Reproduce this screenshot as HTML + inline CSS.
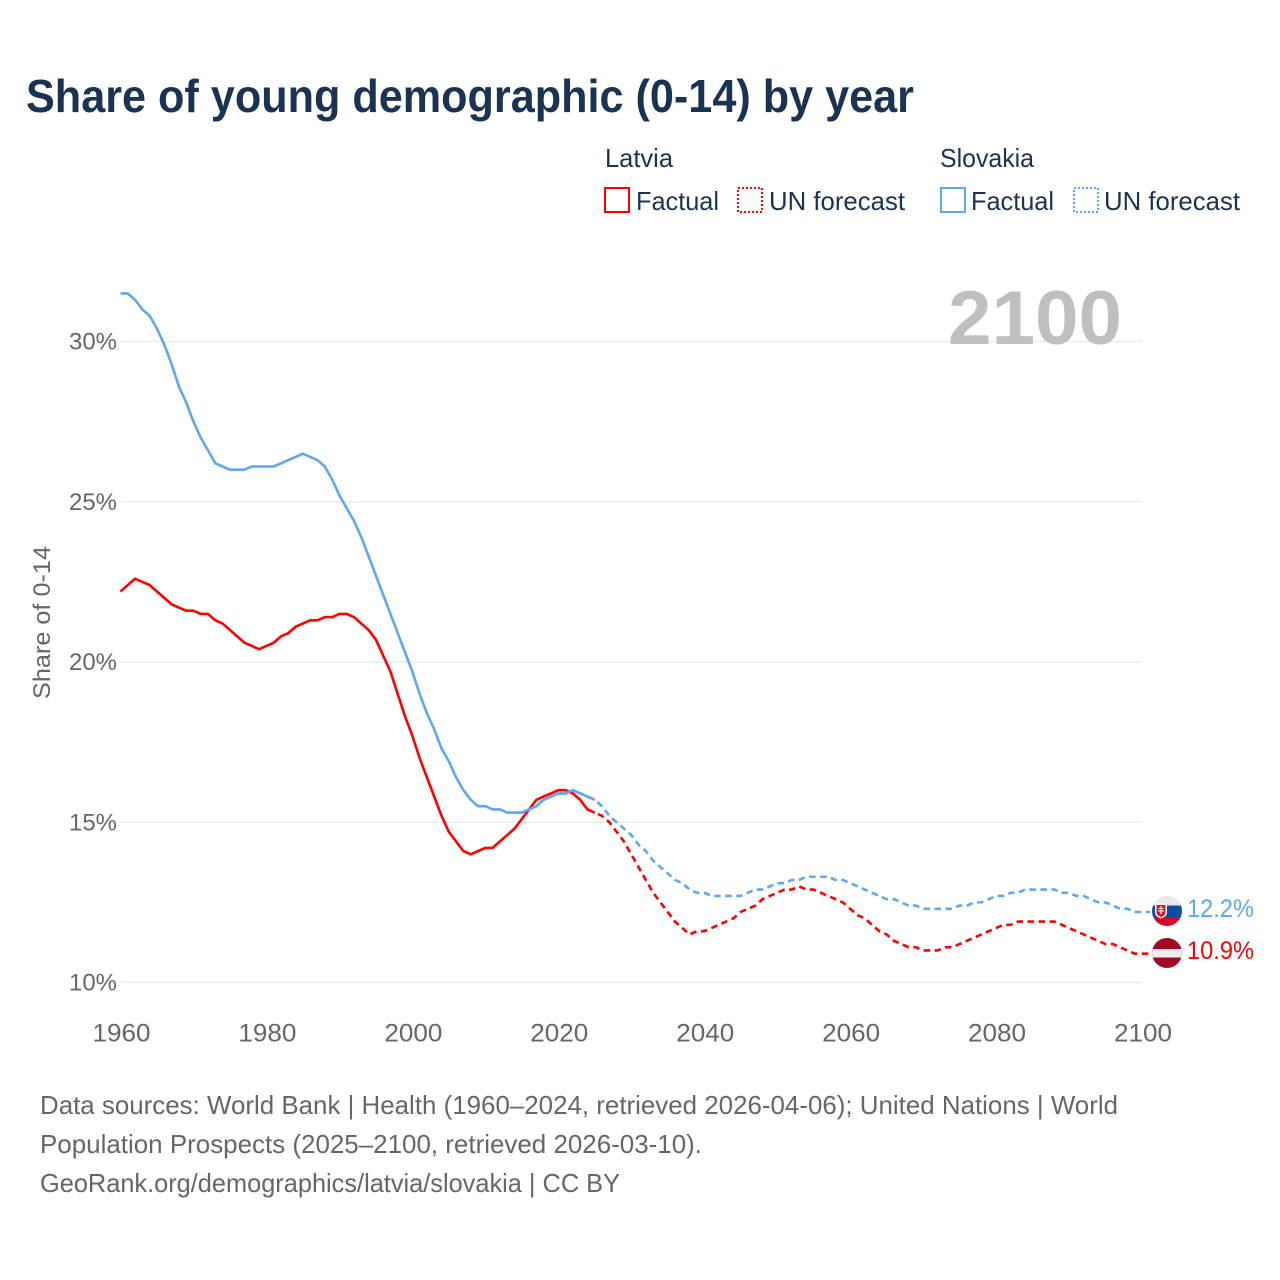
<!DOCTYPE html>
<html lang="en">
<head>
<meta charset="utf-8">
<title>Share of young demographic (0-14) by year</title>
<style>
html,body{margin:0;padding:0;background:#fff;width:1280px;height:1280px;overflow:hidden}
svg{display:block}
text{font-family:"Liberation Sans",sans-serif}
</style>
</head>
<body>
<svg id="chart" xmlns="http://www.w3.org/2000/svg" width="1280" height="1280" viewBox="0 0 1280 1280">
  <rect width="1280" height="1280" fill="#fff"/>
  <text x="26" y="112" font-size="46" font-weight="700" fill="#1b3353" textLength="888" lengthAdjust="spacingAndGlyphs">Share of young demographic (0-14) by year</text>

  <g font-size="26" fill="#1b3353">
    <text x="605" y="167" textLength="68" lengthAdjust="spacingAndGlyphs">Latvia</text>
    <rect x="605" y="188" width="24" height="24" fill="none" stroke="#ff0000" stroke-width="2"/>
    <text x="636" y="210" textLength="83" lengthAdjust="spacingAndGlyphs">Factual</text>
    <rect x="738" y="188" width="24" height="24" fill="none" stroke="#ff0000" stroke-width="2" stroke-dasharray="2 2"/>
    <text x="769" y="210" textLength="136" lengthAdjust="spacingAndGlyphs">UN forecast</text>
    <text x="940" y="167" textLength="94" lengthAdjust="spacingAndGlyphs">Slovakia</text>
    <rect x="941" y="188" width="24" height="24" fill="none" stroke="#5fa8ee" stroke-width="2"/>
    <text x="971" y="210" textLength="83" lengthAdjust="spacingAndGlyphs">Factual</text>
    <rect x="1074" y="188" width="24" height="24" fill="none" stroke="#5fa8ee" stroke-width="2" stroke-dasharray="2 2"/>
    <text x="1104" y="210" textLength="136" lengthAdjust="spacingAndGlyphs">UN forecast</text>
  </g>

  <g id="grid"></g>
  <text x="948" y="344" font-size="76" font-weight="700" fill="#bfbfbf" textLength="174" lengthAdjust="spacingAndGlyphs">2100</text>
  <g id="y-ticks"></g>
  <g id="x-ticks"></g>
  <text transform="translate(50,622.5) rotate(-90)" text-anchor="middle" font-size="24" fill="#666" textLength="153" lengthAdjust="spacingAndGlyphs">Share of 0-14</text>
  <g id="series"></g>

  <defs>
    <clipPath id="clip-sk"><circle cx="1167" cy="911" r="15"/></clipPath>
    <clipPath id="clip-lv"><circle cx="1167" cy="953" r="15"/></clipPath>
  </defs>
  <g clip-path="url(#clip-sk)">
    <rect x="1152" y="896" width="30" height="9.500" fill="#e9e9e9"/>
    <rect x="1152" y="905.500" width="30" height="11.500" fill="#0b4ea2"/>
    <rect x="1152" y="917" width="30" height="9" fill="#d6052d"/>
    <path d="M1155 903.500h12v9q0 4-6 6q-6-2-6-6z" fill="#fff"/>
    <path d="M1156.500 905h9v7.500q0 3-4.500 4.500q-4.500-1.500-4.500-4.500z" fill="#e01030"/>
    <path d="M1160.400 906h1.200v8h-1.200zM1158.500 908h5v1h-5zM1158 910.500h6v1h-6z" fill="#fff"/>
  </g>
  <g clip-path="url(#clip-lv)">
    <rect x="1152" y="938" width="30" height="30" fill="#9e0b25"/>
    <rect x="1152" y="949" width="30" height="8.500" fill="#ececec"/>
  </g>
  <text id="label-sk" x="1187" y="917" font-size="25" fill="#5fa8ee" textLength="67" lengthAdjust="spacingAndGlyphs"></text>
  <text id="label-lv" x="1187" y="959" font-size="25" fill="#ff0000" textLength="67" lengthAdjust="spacingAndGlyphs"></text>

  <g font-size="26" fill="#666">
    <text x="40" y="1114" textLength="1078" lengthAdjust="spacingAndGlyphs">Data sources: World Bank | Health (1960–2024, retrieved 2026-04-06); United Nations | World</text>
    <text x="40" y="1153" textLength="662" lengthAdjust="spacingAndGlyphs">Population Prospects (2025–2100, retrieved 2026-03-10).</text>
    <text x="40" y="1192" textLength="580" lengthAdjust="spacingAndGlyphs">GeoRank.org/demographics/latvia/slovakia | CC BY</text>
  </g>
</svg>
<script>
const factualStartYear = 1960;
const forecastStartYear = 2025;
const yTickValues = [10, 15, 20, 25, 30];
const xTickValues = [1960, 1980, 2000, 2020, 2040, 2060, 2080, 2100];
const latviaFactual = [22.2,22.4,22.6,22.5,22.4,22.2,22.0,21.8,21.7,21.6,21.6,21.5,21.5,21.3,21.2,21.0,20.8,20.6,20.5,20.4,20.5,20.6,20.8,20.9,21.1,21.2,21.3,21.3,21.4,21.4,21.5,21.5,21.4,21.2,21.0,20.7,20.2,19.7,19.0,18.3,17.7,17.0,16.4,15.8,15.2,14.7,14.4,14.1,14.0,14.1,14.2,14.2,14.4,14.6,14.8,15.1,15.4,15.7,15.8,15.9,16.0,16.0,15.9,15.7,15.4,15.3];
const latviaForecast = [15.3,15.2,15.0,14.7,14.4,14.0,13.6,13.2,12.8,12.5,12.2,11.9,11.7,11.5,11.6,11.6,11.7,11.8,11.9,12.0,12.2,12.3,12.4,12.6,12.7,12.8,12.9,12.9,13.0,12.9,12.9,12.8,12.7,12.6,12.5,12.3,12.1,12.0,11.8,11.6,11.5,11.3,11.2,11.1,11.1,11.0,11.0,11.0,11.1,11.1,11.2,11.3,11.4,11.5,11.6,11.7,11.8,11.8,11.9,11.9,11.9,11.9,11.9,11.9,11.8,11.7,11.6,11.5,11.4,11.3,11.2,11.2,11.1,11.0,10.9,10.9];
const slovakiaFactual = [31.5,31.5,31.3,31.0,30.8,30.4,29.9,29.3,28.6,28.1,27.5,27.0,26.6,26.2,26.1,26.0,26.0,26.0,26.1,26.1,26.1,26.1,26.2,26.3,26.4,26.5,26.4,26.3,26.1,25.7,25.2,24.8,24.4,23.9,23.3,22.7,22.1,21.5,20.9,20.3,19.7,19.0,18.4,17.9,17.3,16.9,16.4,16.0,15.7,15.5,15.5,15.4,15.4,15.3,15.3,15.3,15.4,15.5,15.7,15.8,15.9,15.9,16.0,15.9,15.8,15.7];
const slovakiaForecast = [15.7,15.5,15.2,15.0,14.8,14.6,14.3,14.1,13.8,13.6,13.4,13.2,13.1,12.9,12.8,12.8,12.7,12.7,12.7,12.7,12.7,12.8,12.9,12.9,13.0,13.1,13.1,13.2,13.2,13.3,13.3,13.3,13.3,13.2,13.2,13.1,13.0,12.9,12.8,12.7,12.6,12.6,12.5,12.4,12.4,12.3,12.3,12.3,12.3,12.3,12.4,12.4,12.5,12.5,12.6,12.7,12.7,12.8,12.8,12.9,12.9,12.9,12.9,12.9,12.8,12.8,12.7,12.7,12.6,12.5,12.5,12.4,12.3,12.3,12.2,12.2];

const NS = 'http://www.w3.org/2000/svg';
function xScale(year) { return 120.5 + (year - 1960) * (1021.5 / 140); }
function yScale(value) { return 982.5 - (value - 10) * (641 / 20); }
function make(tag, attrs, parent) {
  const el = document.createElementNS(NS, tag);
  for (const k in attrs) el.setAttribute(k, attrs[k]);
  parent.appendChild(el);
  return el;
}
function linePath(values, startYear, extendTo) {
  let d = values.map(function (v, i) {
    return (i ? 'L' : 'M') + xScale(startYear + i).toFixed(2) + ' ' + yScale(v).toFixed(2);
  }).join('');
  if (extendTo) d += 'L' + extendTo + ' ' + yScale(values[values.length - 1]).toFixed(2);
  return d;
}

const gridG = document.getElementById('grid');
const yG = document.getElementById('y-ticks');
yTickValues.forEach(function (v) {
  const gl = make('line', {x1: xScale(1960), x2: xScale(2100), y1: yScale(v), y2: yScale(v), stroke: '#ececec', 'stroke-width': 1.6}, gridG);
  
  
  const t = make('text', {x: 117, y: yScale(v) + 8, 'text-anchor': 'end', 'font-size': 24.5, fill: '#666', textLength: 48, lengthAdjust: 'spacingAndGlyphs'}, yG);
  
  
  t.textContent = v + '%';
});

const xG = document.getElementById('x-ticks');
xTickValues.forEach(function (y) {
  const t = make('text', {x: xScale(y) + 1, y: 1041.5, 'text-anchor': 'middle', 'font-size': 25, fill: '#666', textLength: 58, lengthAdjust: 'spacingAndGlyphs'}, xG);
  
  
  t.textContent = y;
});

const seriesG = document.getElementById('series');
const RED = '#ff0000';
const BLUE = '#5fa8ee';
const LINE_WIDTH = 2.6;
const DASH = '6.5 4.5';
const DASH_OFFSET = 7.5;

const skFact = make('path', {d: linePath(slovakiaFactual, factualStartYear), fill: 'none', stroke: BLUE, 'stroke-width': LINE_WIDTH, 'stroke-linejoin': 'round'}, seriesG);



const skFc = make('path', {d: linePath(slovakiaForecast, forecastStartYear, 1150), fill: 'none', stroke: BLUE, 'stroke-width': LINE_WIDTH, 'stroke-dasharray': DASH, 'stroke-dashoffset': DASH_OFFSET}, seriesG);



const lvFact = make('path', {d: linePath(latviaFactual, factualStartYear), fill: 'none', stroke: RED, 'stroke-width': LINE_WIDTH, 'stroke-linejoin': 'round'}, seriesG);



const lvFc = make('path', {d: linePath(latviaForecast, forecastStartYear, 1150), fill: 'none', stroke: RED, 'stroke-width': LINE_WIDTH, 'stroke-dasharray': DASH, 'stroke-dashoffset': DASH_OFFSET}, seriesG);



// Re-draw the blue segment over the red one around their crossing, as in the reference
const skTop = make('path', {d: linePath(slovakiaFactual.slice(54), factualStartYear + 54), fill: 'none', stroke: BLUE, 'stroke-width': LINE_WIDTH}, seriesG);



document.getElementById('label-sk').textContent = slovakiaForecast[slovakiaForecast.length - 1].toFixed(1) + '%';
document.getElementById('label-lv').textContent = latviaForecast[latviaForecast.length - 1].toFixed(1) + '%';
</script>
</body>
</html>
